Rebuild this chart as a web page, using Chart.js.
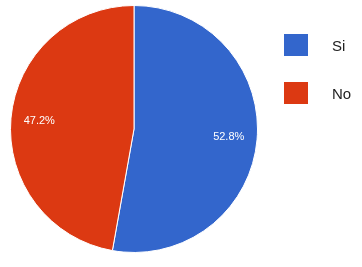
<!DOCTYPE html>
<html>
<head>
<meta charset="utf-8">
<script src="https://cdn.jsdelivr.net/npm/chart.js@4"></script>
<style>
  html, body { margin: 0; padding: 0; background: #fff; }
  #wrap { width: 362px; height: 267px; position: relative; }
</style>
</head>
<body>
<div id="wrap"><canvas id="chart-pie"></canvas></div>
<script>
const labels = ["Si", "No"];
const values = [52.8, 47.2];
const colors = ["#3366cc", "#dc3912"];

// percent labels inside each slice
const sliceLabels = {
    id: "sliceLabels",
    afterDatasetsDraw(chart) {
        const ctx = chart.ctx;
        const meta = chart.getDatasetMeta(0);
        const total = values.reduce((a, b) => a + b, 0);
        ctx.save();
        ctx.fillStyle = "#ffffff";
        ctx.font = "11px 'Liberation Sans', Arial, sans-serif";
        ctx.textAlign = "center";
        ctx.textBaseline = "middle";
        meta.data.forEach(function (arc, i) {
            const p = arc.getProps(["x", "y", "startAngle", "endAngle", "outerRadius"], true);
            const mid = (p.startAngle + p.endAngle) / 2;
            const r = p.outerRadius * 0.77;
            const txt = (values[i] / total * 100).toFixed(1) + "%";
            ctx.fillText(txt, p.x + Math.cos(mid) * r, p.y + Math.sin(mid) * r);
        });
        ctx.restore();
    },
};

// legend on the right, top aligned
const sideLegend = {
    id: "sideLegend",
    afterDraw(chart) {
        const ctx = chart.ctx;
        ctx.save();
        ctx.font = "15px 'Liberation Sans', Arial, sans-serif";
        ctx.textBaseline = "middle";
        labels.forEach(function (lbl, i) {
            const y = 34 + i * 48;
            ctx.fillStyle = colors[i];
            ctx.fillRect(284, y, 24, 22);
            ctx.fillStyle = "#222222";
            ctx.fillText(lbl, 332, y + 13);
        });
        ctx.restore();
    },
};

new Chart(document.getElementById("chart-pie"), {
    type: "pie",
    data: {
        labels: labels,
        datasets: [
            {
                data: values,
                backgroundColor: colors,
                borderColor: "#ffffff",
                borderWidth: 1,
            },
        ],
    },
    options: {
        responsive: true,
        maintainAspectRatio: false,
        animation: false,
        layout: {
            padding: { left: 10, right: 104, top: 5, bottom: 14 },
        },
        plugins: {
            legend: { display: false },
            tooltip: { enabled: false },
        },
    },
    plugins: [sliceLabels, sideLegend],
});
</script>
</body>
</html>
